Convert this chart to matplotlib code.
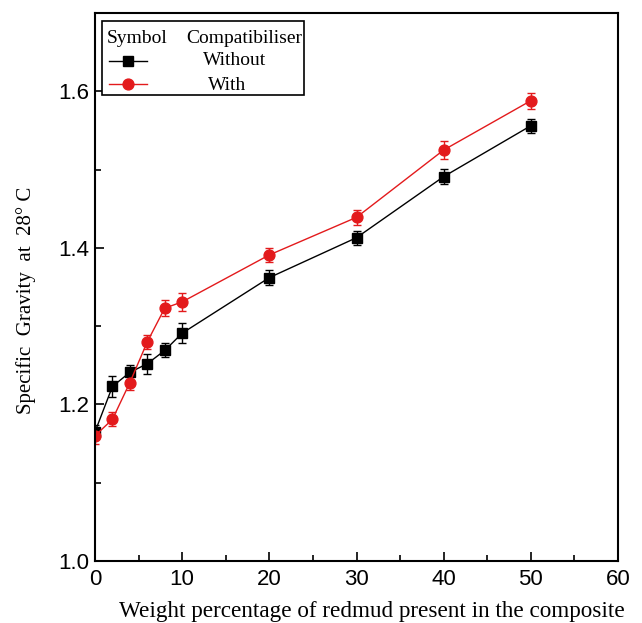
import matplotlib
matplotlib.use('Agg')
import matplotlib.pyplot as plt
from matplotlib.lines import Line2D
from matplotlib.patches import Rectangle
import numpy as np

# weight % of redmud
wt = [0, 2, 4, 6, 8, 10, 20, 30, 40, 50]

# specific gravity, without compatibiliser
sg_without = [1.165, 1.223, 1.241, 1.252, 1.269, 1.291, 1.362, 1.413, 1.491, 1.556]
err_without = [0.009, 0.013, 0.010, 0.013, 0.009, 0.013, 0.010, 0.009, 0.010, 0.009]

# specific gravity, with compatibiliser
sg_with = [1.160, 1.181, 1.228, 1.280, 1.323, 1.331, 1.391, 1.439, 1.525, 1.588]
err_with = [0.010, 0.009, 0.009, 0.009, 0.010, 0.011, 0.009, 0.010, 0.011, 0.010]

red = '#e31a1c'

fig = plt.figure(figsize=(6.42, 6.23), dpi=100)
ax = fig.add_axes([0.148, 0.0995, 0.8146, 0.8796])

ax.errorbar(wt, sg_without, yerr=err_without, color='black', marker='s',
            markersize=6.8, lw=1, capsize=3, elinewidth=1, capthick=1)
ax.errorbar(wt, sg_with, yerr=err_with, color=red, marker='o',
            markersize=7.8, lw=1, capsize=3, elinewidth=1, capthick=1)

ax.set_xlim(0, 60)
ax.set_ylim(1.0, 1.7)
ax.set_xticks(np.arange(0, 61, 10))
ax.set_xticks(np.arange(5, 60, 10), minor=True)
ax.set_yticks([1.0, 1.2, 1.4, 1.6])
ax.set_yticks([1.1, 1.3, 1.5], minor=True)
ax.tick_params(which='both', direction='in', width=1.2, labelsize=16)
ax.tick_params(which='major', length=6.5)
ax.tick_params(which='minor', length=4)
ax.tick_params(axis='x', pad=6)
ax.tick_params(axis='y', pad=4)
for lab in ax.get_xticklabels() + ax.get_yticklabels():
    lab.set_family('Liberation Sans')
for s in ax.spines.values():
    s.set_linewidth(1.5)

ax.set_xlabel('Weight percentage of redmud present in the composite',
              family='Liberation Serif', fontsize=16.7)
ax.xaxis.set_label_coords(0.53, -0.073)
ax.set_ylabel('Specific  Gravity  at  28° C', family='Liberation Serif',
              fontsize=15)
ax.yaxis.set_label_coords(-0.112, 0.476)

# legend box drawn by hand (Origin style)
tr = ax.transAxes
ax.add_patch(Rectangle((0.0134, 0.8504), 0.3862, 0.135, transform=tr,
                       fill=True, facecolor='white', edgecolor='black',
                       lw=1.2, zorder=5))
lfont = dict(family='Liberation Serif', fontsize=14, va='center',
             transform=tr, zorder=6)
ax.text(0.0229, 0.954, 'Symbol', **lfont)
ax.text(0.174, 0.954, 'Compatibiliser', **lfont)
ax.text(0.2065, 0.914, 'Without', **lfont)
ax.text(0.216, 0.868, 'With', **lfont)
ax.add_line(Line2D([0.0268, 0.0994], [0.9124, 0.9124], color='black', lw=1,
                   transform=tr, zorder=6))
ax.add_line(Line2D([0.063], [0.9124], color='black', marker='s',
                   markersize=6.8, transform=tr, zorder=6))
ax.add_line(Line2D([0.0268, 0.0994], [0.8704, 0.8704], color=red, lw=1,
                   transform=tr, zorder=6))
ax.add_line(Line2D([0.063], [0.8704], color=red, marker='o',
                   markersize=7.8, transform=tr, zorder=6))

fig.savefig('out.png', dpi=100)
